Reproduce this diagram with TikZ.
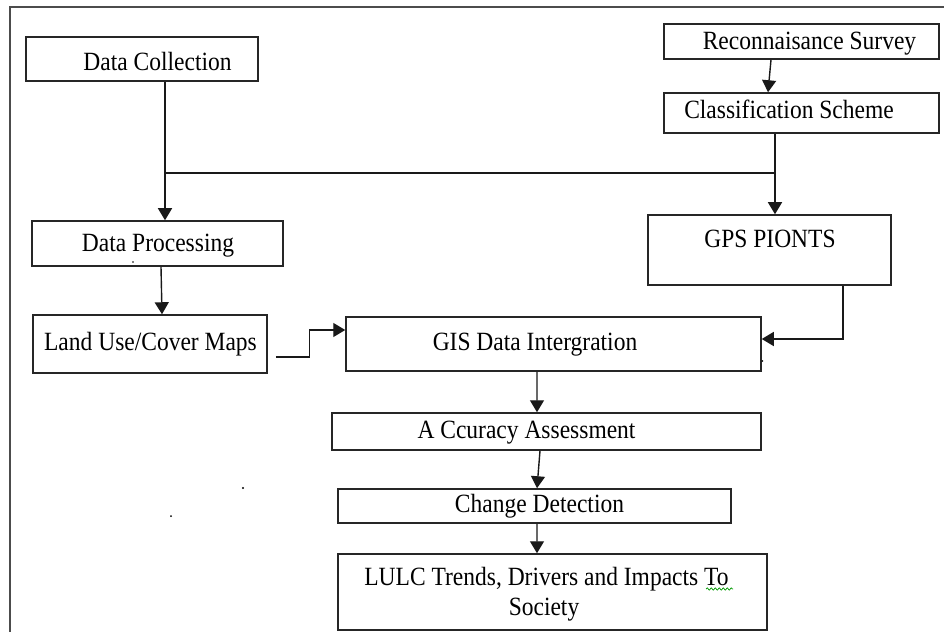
\documentclass[tikz,border=0pt]{standalone}
\usepackage{fontspec}
\setmainfont{Liberation Serif}
\usetikzlibrary{arrows.meta,decorations.pathmorphing,calc}
\newcommand\tallt[1]{\scalebox{1}[1.12]{#1}}
\begin{document}
\begin{tikzpicture}[x=1bp,y=-1bp,
  box/.style={draw=black!85,line width=1.5bp,rectangle,inner sep=0pt},
  lbl/.style={anchor=base,inner sep=0pt,font=\fontsize{23.5bp}{28bp}\selectfont},
  arr/.style={draw=black!90,line width=1.4bp,-{Triangle[length=12bp,width=14bp]}},
  ln/.style={draw=black!90,line width=1.4bp}]
\useasboundingbox (0,0) rectangle (944,632);
% frame
\draw[draw=black!70,line width=2bp] (10,640) -- (10,7) -- (950,7);
% boxes
\node[box,minimum width=232bp,minimum height=44bp] (dc) at (142,59) {};
\node[box,minimum width=275bp,minimum height=35bp] (rs) at (801.5,41.5) {};
\node[box,minimum width=275bp,minimum height=40bp] (cs) at (801.5,113) {};
\node[box,minimum width=251bp,minimum height=45bp] (dp) at (157.5,243.5) {};
\node[box,minimum width=243bp,minimum height=70bp] (gps) at (769.5,250) {};
\node[box,minimum width=234bp,minimum height=58bp] (lu) at (150,344) {};
\node[box,minimum width=415bp,minimum height=54bp] (gis) at (553.5,344) {};
\node[box,minimum width=429bp,minimum height=37bp] (acc) at (546.5,431.5) {};
\node[box,minimum width=393bp,minimum height=34bp] (cd) at (534.5,506) {};
\node[box,minimum width=429bp,minimum height=76bp] (lulc) at (552.5,592) {};
% labels
\node[lbl] (dct) at (157.5,70.5) {\tallt{Data Collection}};
\node[lbl] (rst) at (809.5,50) {\tallt{Reconnaisance Survey}};
\node[lbl] (cst) at (789,118.5) {\tallt{Classification Scheme}};
\node[lbl] (dpt) at (158,251.5) {\tallt{Data Processing}};
\node[lbl] (gpst) at (770,248) {\tallt{GPS PIONTS}};
\node[lbl] (lut) at (150.5,350.5) {\tallt{Land Use/Cover Maps}};
\node[lbl] (gist) at (535,350.5) {\tallt{GIS Data Intergration}};
\node[lbl] (acct) at (526.5,438.5) {\tallt{A Ccuracy Assessment}};
\node[lbl] (cdt) at (539.5,512) {\tallt{Change Detection}};
\node[lbl] (lulct1) at (546.5,585) {\tallt{LULC Trends, Drivers and Impacts To}};
\node[lbl] (lulct2) at (544,615) {\tallt{Society}};
% spell-check squiggle
\draw[green!60!black,line width=0.7bp,decorate,decoration={snake,amplitude=1.1bp,segment length=4bp}] (706,589) -- (733,589);
% connectors
\coordinate (j1) at (165,173);
\coordinate (j2) at (775,173);
\draw[ln] (j1) -- (j2);
\draw[arr] (dc.south -| j1) -- (j1) -- (dp.north -| j1);
\draw[arr] (cs.south -| j2) -- (j2) -- (gps.north -| j2);
\draw[arr] ([xshift=-30.5bp]rs.south) -- ([xshift=-33.5bp]cs.north);
\draw[arr] ([xshift=3.5bp]dp.south) -- ([xshift=12bp]lu.north);
\draw[arr] ([xshift=8bp,yshift=-13bp]lu.east) -- ++(34,0) |- ([yshift=14bp]gis.west);
\draw[arr] ([xshift=73.5bp]gps.south) |- ([yshift=5bp]gis.east);
\draw[arr] ([xshift=-16.5bp]gis.south) -- ([xshift=-9.5bp]acc.north);
\draw[arr] ([xshift=-6.5bp]acc.south) -- ([xshift=2.5bp]cd.north);
\draw[arr] ([xshift=2.5bp]cd.south) -- ([xshift=-15.5bp]lulc.north);
% stray specks
\fill (133,262) circle (0.9bp);
\fill (243,488) circle (1.1bp);
\fill (171,516) circle (1bp);
\fill (762.5,361) circle (0.8bp);
\end{tikzpicture}
\end{document}
